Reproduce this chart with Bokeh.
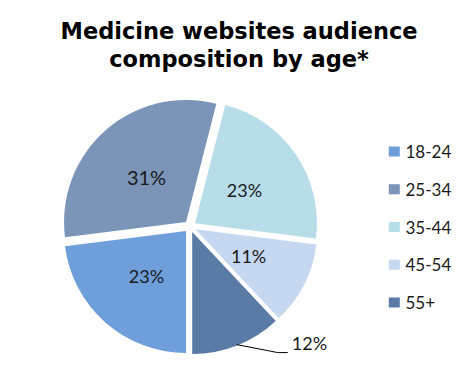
import numpy as np
from bokeh.plotting import figure
from bokeh.models import Range1d, ColumnDataSource
from bokeh.core.properties import value
from bokeh.embed import file_html
from bokeh.resources import INLINE

title_lines = ["Medicine websites audience", "composition by age*"]
categories = ["18-24", "25-34", "35-44", "45-54", "55+"]
shares = [23, 31, 23, 11, 12]
colors = ["#6f9fda", "#7b95b9", "#b7dde8", "#c6d8f0", "#5a7ba6"]
labels = [f"{v}%" for v in shares]

W, H = 459, 361
p = figure(width=W, height=H, output_backend="svg", toolbar_location=None,
           x_range=Range1d(0, W), y_range=Range1d(16, 16 + H),
           min_border=0, outline_line_color=None)
p.axis.visible = False
p.grid.visible = False
p.background_fill_color = "white"
p.border_fill_color = "white"

# pie geometry (data units == pixels)
cx, cy, r, d = 189.5, 151.0, 122.0, 6.0
vals = np.array(shares, dtype=float)
frac = vals / vals.sum()
c1 = np.cumsum(frac)
c0 = c1 - frac
# start at 6 o'clock, clockwise
start = np.deg2rad(-90 - c1 * 360)
end = np.deg2rad(-90 - c0 * 360)
mid = (start + end) / 2
ox = cx + d * np.cos(mid)
oy = cy + d * np.sin(mid)

src = ColumnDataSource(dict(x=ox, y=oy, start=start, end=end, color=colors, cat=categories))
p.wedge(x="x", y="y", radius=r, start_angle="start", end_angle="end",
        fill_color="color", line_color=None, source=src, direction="anticlock")

# inside labels
lr = d + 0.49 * r
inside = [0, 1, 2, 3]
lx = [cx + lr * np.cos(mid[i]) for i in inside]
ly = [cy + lr * np.sin(mid[i]) for i in inside]
sizes = ["18px", "20px", "18px", "18px"]
p.text(x=lx, y=ly, text=[labels[i] for i in inside], text_font=value("Lato"),
       text_font_size=sizes, text_align="center", text_baseline="middle",
       text_color="#1a1a1a")

# outside label for 55+ with leader line
i = 4
sx = cx + (r + d - 1) * np.cos(mid[i])
sy = cy + (r + d - 1) * np.sin(mid[i])
ex, ey = sx + 41, sy - 8
fx = ex + 10
p.line(x=[sx, ex, fx], y=[sy, ey, ey], line_color="#000000", line_width=1)
p.text(x=[fx + 4], y=[ey + 10], text=[labels[i]], text_font=value("Lato"),
       text_font_size="18px", text_align="left", text_baseline="middle",
       text_color="#1a1a1a")

# title
p.text(x=[238.5, 238.5], y=[347, 319], text=title_lines,
       text_font=value("DejaVu Sans"), text_font_style="bold",
       text_font_size="22.5px", text_align="center", text_baseline="alphabetic",
       text_color="#000000")

# legend
leg_top, step = 226.0, 37.75
ly_leg = [leg_top - k * step for k in range(len(categories))]
p.rect(x=[393.8] * len(categories), y=ly_leg, width=11, height=10,
       width_units="screen", height_units="screen", fill_color=colors, line_color=None)
p.text(x=[405] * len(categories), y=ly_leg, text=categories, text_font=value("Lato"),
       text_font_size="17px", text_align="left", text_baseline="middle",
       text_color="#1a1a1a")

open("out.html", "w").write(file_html(p, INLINE))
